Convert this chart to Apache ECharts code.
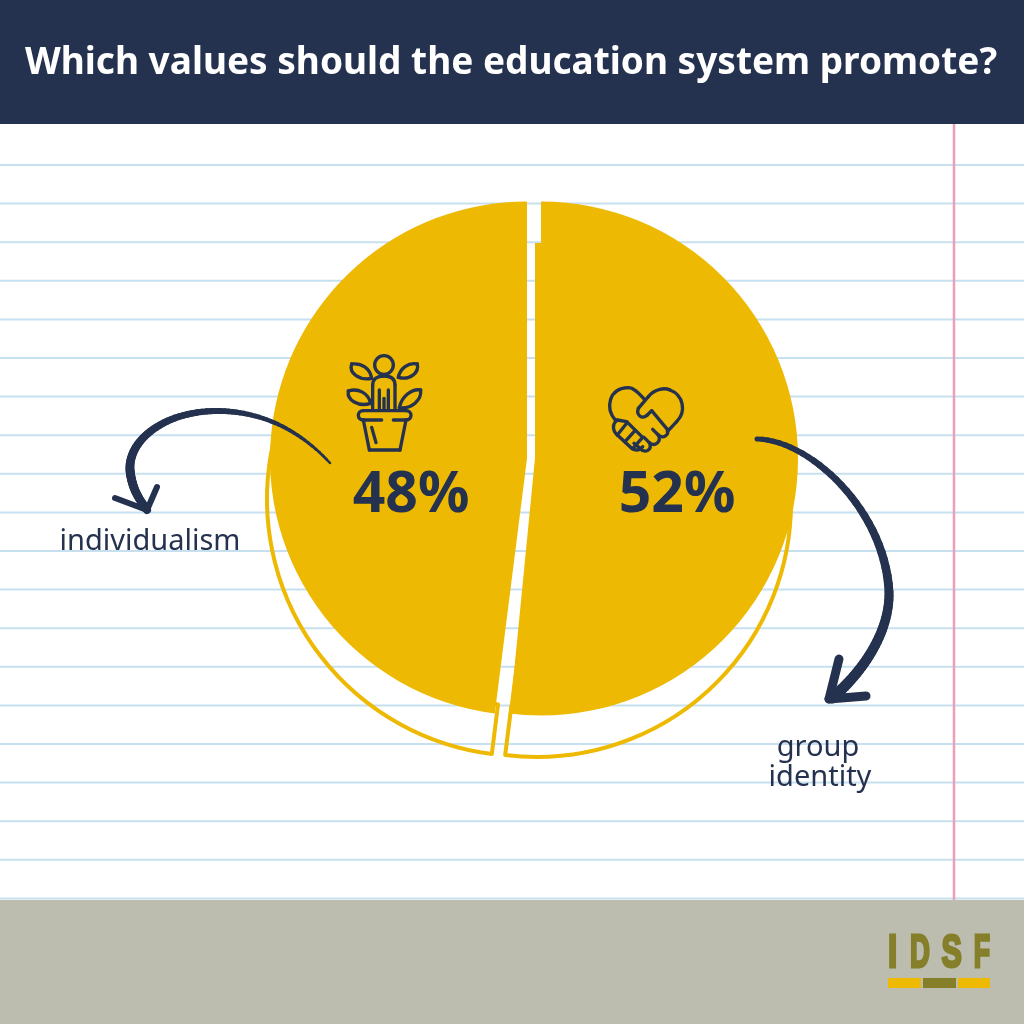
<!DOCTYPE html>
<html><head><meta charset="utf-8">
<style>html,body{margin:0;padding:0;background:#fff}#c{width:1024px;height:1024px}</style>
<script src="https://cdn.jsdelivr.net/npm/echarts@6/dist/echarts.min.js"></script>
</head><body><div id="c"></div>
<script>
const categories = ['group identity', 'individualism'];
const values = [52, 48];
const titleText = 'Which values should the education system promote?';
const logoLetters = ['I', 'D', 'S', 'F'];

const NAVY = '#24324f', GOLD = '#eeb902', OLIVE = '#857f2a', FONT = '"Noto Sans", sans-serif';
const chart = echarts.init(document.getElementById('c'), null, {renderer: 'canvas', width: 1024, height: 1024});

function slice(idx, center, radius, filled) {
  return {
    type: 'pie', silent: true, radius, center, startAngle: 90, clockwise: true,
    label: {show: false}, labelLine: {show: false}, animation: false, z: filled ? 3 : 2,
    data: values.map((v, i) => ({
      name: categories[i], value: v,
      itemStyle: i === idx
        ? (filled ? {color: GOLD, borderWidth: 0} : {color: 'rgba(0,0,0,0)', borderColor: GOLD, borderWidth: 4})
        : {color: 'rgba(0,0,0,0)', borderWidth: 0}
    }))
  };
}

const ruleYs = [];
for (let k = 0; k < 20; k++) ruleYs.push(165 + k * 38.6);
const rules = ruleYs.map(y => ({type: 'line', z: 0, shape: {x1: 0, y1: y, x2: 1024, y2: y}, style: {stroke: '#c6e0ef', lineWidth: 2}}));

// Turn a small M/L/C/Z outline into ECharts line and bezierCurve graphic elements.
function stroke(d, w) {
  const t = d.match(/[MLCZ]|-?[\d.]+/g), out = [];
  const style = {fill: null, stroke: NAVY, lineWidth: w, lineCap: 'round', lineJoin: 'round'};
  let i = 0, x = 0, y = 0, sx = 0, sy = 0, cmd = '';
  while (i < t.length) {
    if (/[MLCZ]/.test(t[i])) cmd = t[i++];
    if (cmd === 'M') { x = sx = +t[i++]; y = sy = +t[i++]; cmd = 'L'; }
    else if (cmd === 'L') { const a = +t[i++], b = +t[i++]; out.push({type: 'line', z: 10, shape: {x1: x, y1: y, x2: a, y2: b}, style}); x = a; y = b; }
    else if (cmd === 'C') { const v = t.slice(i, i + 6).map(Number); i += 6;
      out.push({type: 'bezierCurve', z: 10, shape: {x1: x, y1: y, cpx1: v[0], cpy1: v[1], cpx2: v[2], cpy2: v[3], x2: v[4], y2: v[5]}, style}); x = v[4]; y = v[5]; }
    else if (cmd === 'Z') { out.push({type: 'line', z: 10, shape: {x1: x, y1: y, x2: sx, y2: sy}, style}); x = sx; y = sy; cmd = ''; }
  }
  return out;
}
// A brush-like curve: one cubic drawn in short pieces whose width grows from w0 to w1.
function brush(p, w0, w1) {
  const out = [], n = 30;
  const at = (t, a, b, c, d) => { const u = 1 - t; return u*u*u*a + 3*u*u*t*b + 3*u*t*t*c + t*t*t*d; };
  for (let k = 0; k < n; k++) {
    const t0 = k / n, t1 = (k + 1) / n;
    out.push({type: 'line', z: 10, shape: {
      x1: at(t0, p[0], p[2], p[4], p[6]), y1: at(t0, p[1], p[3], p[5], p[7]),
      x2: at(t1, p[0], p[2], p[4], p[6]), y2: at(t1, p[1], p[3], p[5], p[7])},
      style: {stroke: NAVY, lineCap: 'round', lineWidth: w0 + (w1 - w0) * t0}});
  }
  return out;
}
const txt = (text, x, y, size, weight, color) => ({type: 'text', z: 10, x, y, style: {text, fill: color, font: `${weight} ${size}px ${FONT}`, textAlign: 'center', textVerticalAlign: 'middle'}});

const plant = {type: 'group', x: 330, y: 340, scaleX: 1/3, scaleY: 1/3, children: [
  {type: 'circle', z: 10, shape: {cx: 162, cy: 75, r: 28}, style: {fill: null, stroke: NAVY, lineWidth: 10}},
  ...stroke('M128 205 L128 135 C128 115 145 108 162 108 C180 108 195 115 195 135 L195 205 M148 205 L148 150 M175 205 L175 150 M162 205 L162 175', 10),
  ...stroke('M125 115 C120 85 95 68 65 72 C55 100 90 122 125 115', 10),
  ...stroke('M205 112 C210 85 235 66 262 72 C268 98 240 122 205 112', 10),
  ...stroke('M122 190 C115 160 85 143 55 153 C50 180 85 202 122 190', 10),
  ...stroke('M208 203 C215 170 245 145 272 150 C275 180 245 208 208 203', 10),
  ...stroke('M155 240 L100 240 C80 240 80 212 100 212 L228 212 C248 212 248 240 228 240 L190 240', 10),
  ...stroke('M100 240 L118 330 L210 330 L228 240 M125 262 L138 308', 10)
]};
const heart = {type: 'group', x: 330, y: 340, scaleX: 1/3, scaleY: 1/3, children: [
  ...stroke('M857 242 C825 205 835 145 895 143 C915 143 930 165 945 180', 10),
  ...stroke('M925 205 L955 170 C975 145 1005 143 1020 150 C1060 165 1070 215 1040 245 L1012 275', 10),
  ...stroke('M925 205 C918 225 935 240 952 225 L965 212 L1012 268 C1018 285 1000 298 985 285 L968 268', 10),
  ...stroke('M985 285 C995 305 975 322 958 308 L942 292 M958 308 C968 330 945 342 930 325 L912 310', 10),
  ...stroke('M862 240 L890 245 L938 292 M862 240 C848 250 845 270 862 285 L905 325 C920 335 930 330 938 320', 10),
  ...stroke('M862 285 L890 250 M885 305 L915 272 M908 326 L938 292', 10)
]};
const arrows = [
  ...brush([330, 463, 295, 425, 255, 411, 217, 411], 2.5, 6),
  ...brush([217, 411, 165, 411, 128, 440, 130, 470], 6, 9),
  ...brush([130, 470, 132, 490, 140, 500, 147, 510], 9, 8),
  ...stroke('M115 498 L147 510 L157 487', 6),
  ...brush([757, 439, 810, 440, 885, 510, 889, 592], 5, 9),
  ...brush([889, 592, 890, 630, 865, 670, 832, 698], 9, 11),
  ...stroke('M839 659 L829 699 L866 696', 9)
];

const graphicEls = [
  ...rules,
  {type: 'rect', z: 1, shape: {x: 0, y: 0, width: 1024, height: 124}, style: {fill: NAVY}},
  {type: 'rect', z: 1, shape: {x: 0, y: 900, width: 1024, height: 124}, style: {fill: '#bcbdaf'}},
  {type: 'line', z: 1, shape: {x1: 954, y1: 124, x2: 954, y2: 900}, style: {stroke: '#ee9fb8', lineWidth: 2.5}},
  // the strip where the right-hand slice's hand-cut edge is wider than the arc
  {type: 'polygon', z: 9, shape: {points: [[535, 243], [542, 243], [542, 458], [510, 713], [535, 458]]}, style: {fill: GOLD}},
  txt(titleText, 511, 63, 37, 700, '#ffffff'),
  txt(values[1] + '%', 411, 496, 57, 700, NAVY),
  txt(values[0] + '%', 677, 496, 57, 700, NAVY),
  txt('individualism', 150, 542, 29, 400, NAVY),
  txt('group', 818, 748, 29, 400, NAVY),
  txt('identity', 820, 778, 29, 400, NAVY),
  plant, heart,
  ...arrows,
  ...logoLetters.map((l, i) => ({type: 'text', z: 10, x: [892.5, 920, 951.5, 982][i], y: 954.5, scaleX: [0.72, 0.6, 0.66, 0.58][i],
    style: {text: l, fill: OLIVE, stroke: OLIVE, lineWidth: 3, font: 'bold 46px "Liberation Sans", sans-serif', textAlign: 'center', textVerticalAlign: 'middle'}})),
  {type: 'rect', z: 10, shape: {x: 888, y: 978, width: 33, height: 10}, style: {fill: GOLD}},
  {type: 'rect', z: 10, shape: {x: 923, y: 978, width: 33, height: 10}, style: {fill: OLIVE}},
  {type: 'rect', z: 10, shape: {x: 958, y: 978, width: 32, height: 10}, style: {fill: GOLD}}
];

chart.setOption({
  animation: false,
  backgroundColor: '#ffffff',
  graphic: {elements: graphicEls},
  series: [
    slice(1, [524, 499], [207, 257], false),
    slice(0, [537, 503], [205, 254], false),
    slice(1, [527, 458.5], 257, true),
    slice(0, [541, 458.5], 257, true)
  ]
});
</script></body></html>
